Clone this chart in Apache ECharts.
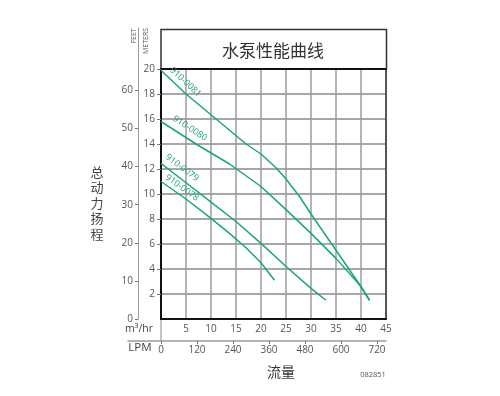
<!DOCTYPE html>
<html>
<head>
<meta charset="utf-8">
<script src="https://cdn.jsdelivr.net/npm/echarts@6/dist/echarts.min.js"></script>
<style>html,body{margin:0;padding:0;background:#fff}#c{width:500px;height:396px}</style>
</head>
<body>
<div id="c"></div>
<script>
// ---- data ----
const seriesNames = ['910-0081', '910-0080', '910-0079', '910-0078'];
const flow0081 = [0, 5, 11, 17, 20, 23, 25, 27.7, 30, 35, 39.3, 41.7];
const head0081 = [19.9, 18, 16, 14, 13.2, 12.1, 11.2, 9.8, 8.4, 5.5, 3.0, 1.5];
const flow0080 = [0, 7, 13.7, 20, 25, 30, 35, 40, 41.7];
const head0080 = [15.8, 14.0, 12.4, 10.6, 8.75, 6.85, 4.85, 2.6, 1.5];
const flow0079 = [0, 5, 10, 15, 20, 25, 30, 33];
const head0079 = [12.45, 10.9, 9.35, 7.8, 6.05, 4.2, 2.45, 1.5];
const flow0078 = [0, 5, 10, 13.7, 17, 20, 22.7];
const head0078 = [11.0, 9.6, 8.05, 6.85, 5.7, 4.5, 3.1];
const lpmTicks = [0, 120, 240, 360, 480, 600, 720];
const feetTicks = [0, 10, 20, 30, 40, 50, 60];
const titleText = '水泵性能曲线';
const yName = '总动力扬程';
const xName = '流量';
const docCode = '082851';

// ---- label anchors (data coords) ----
const labelAnchors = [[4.9, 18.95, -43], [5.8, 15.25, -33], [4.2, 12.1, -37], [4.2, 10.5, -36]];

const flows = [flow0081, flow0080, flow0079, flow0078];
const heads = [head0081, head0080, head0079, head0078];

const green = '#1aa870';
const numFont = 'Open Sans';
const cjkFont = 'Noto Sans CJK SC';

const M3HR_MAX = 45;
const LPM_MAX = M3HR_MAX * 1000 / 60; // 750
const plotLeft = 161, plotRight = 386, plotTop = 69, plotBottom = 319;
const lpmLeft = 128, feetTop = 28, feetLeft = 138;
const lpmMin = -LPM_MAX * (plotLeft - lpmLeft) / (plotRight - plotLeft);
const feetMax = ((plotBottom - feetTop) / (plotBottom - plotTop)) * 20 * 3.28084;

const chart = echarts.init(document.getElementById('c'), null, {renderer: 'canvas'});

const series = seriesNames.map((name, k) => ({
  name: name,
  type: 'line',
  xAxisIndex: 0,
  yAxisIndex: 0,
  data: flows[k].map((q, i) => [q, heads[k][i]]),
  symbol: 'none',
  smooth: false,
  z: 5,
  lineStyle: {color: green, width: 1.5},
  markPoint: {
    symbol: 'circle',
    symbolSize: 1,
    itemStyle: {color: 'rgba(0,0,0,0)'},
    label: {
      show: true, position: 'inside', formatter: name, rotate: labelAnchors[k][2],
      color: green, fontSize: 9, fontFamily: numFont
    },
    data: [{coord: [labelAnchors[k][0], labelAnchors[k][1]]}]
  }
}));

const option = {
  animation: false,
  backgroundColor: '#fff',
  grid: [
    {left: plotLeft, right: 500 - plotRight, top: plotTop, bottom: 396 - plotBottom, containLabel: false},
    {left: lpmLeft, right: 500 - plotRight, top: plotTop, bottom: 396 - plotBottom, containLabel: false},
    {left: feetLeft, width: 10, top: feetTop, bottom: 396 - plotBottom, containLabel: false}
  ],
  xAxis: [
    {
      gridIndex: 0, type: 'value', min: 0, max: M3HR_MAX, interval: 5,
      axisLine: {onZero: false, lineStyle: {color: '#111', width: 2}},
      axisTick: {show: false},
      axisLabel: {showMinLabel: false, color: '#555', fontSize: 10, margin: 5, fontFamily: numFont},
      splitLine: {show: true, lineStyle: {color: '#9c9c9c', width: 1.5}}
    },
    {
      gridIndex: 0, type: 'value', position: 'top', min: 0, max: M3HR_MAX,
      axisLine: {onZero: false, lineStyle: {color: '#111', width: 2}},
      axisTick: {show: false}, axisLabel: {show: false}, splitLine: {show: false}
    },
    {
      gridIndex: 1, type: 'value', position: 'bottom', offset: 22, min: lpmMin, max: LPM_MAX,
      axisLine: {onZero: false, lineStyle: {color: '#9a9a9a', width: 1.5}},
      axisTick: {show: true, length: 3, customValues: lpmTicks, lineStyle: {color: '#777'}},
      axisLabel: {customValues: lpmTicks, color: '#555', fontSize: 10, margin: 4, fontFamily: numFont},
      splitLine: {show: false}
    },
    {gridIndex: 2, type: 'value', show: false, min: 0, max: 1}
  ],
  yAxis: [
    {
      gridIndex: 0, type: 'value', min: 0, max: 20, interval: 2,
      axisLine: {show: true, onZero: false, lineStyle: {color: '#111', width: 2}},
      axisTick: {show: true, length: 4, lineStyle: {color: '#777'}},
      axisLabel: {showMinLabel: false, color: '#555', fontSize: 10, margin: 6, fontFamily: numFont},
      splitLine: {show: true, lineStyle: {color: '#8a8a8a', width: 1.5}}
    },
    {
      gridIndex: 0, type: 'value', position: 'right', min: 0, max: 20,
      axisLine: {show: true, onZero: false, lineStyle: {color: '#555', width: 2}},
      axisTick: {show: false}, axisLabel: {show: false}, splitLine: {show: false}
    },
    {gridIndex: 1, type: 'value', show: false, min: 0, max: 1},
    {
      gridIndex: 2, type: 'value', position: 'left', min: 0, max: feetMax,
      axisLine: {show: true, onZero: false, lineStyle: {color: '#999', width: 1}},
      axisTick: {show: true, length: 3, customValues: feetTicks, lineStyle: {color: '#777'}},
      axisLabel: {customValues: feetTicks, color: '#555', fontSize: 10, margin: 5, fontFamily: numFont},
      splitLine: {show: false}
    }
  ],
  graphic: [
    {type: 'rect', z: -10, shape: {x: plotLeft, y: 29.5, width: plotRight - plotLeft + 0.5, height: plotTop - 29.5},
     style: {fill: '#fff', stroke: '#333', lineWidth: 1.5}},
    {type: 'text', x: (plotLeft + plotRight) / 2 - 0.5, y: 51, z: 10,
     style: {text: titleText, fontSize: 17, fontFamily: cjkFont, fill: '#333', align: 'center', verticalAlign: 'middle'}},
    {type: 'text', x: 134, y: 36, rotation: Math.PI / 2,
     style: {text: 'FEET', fontSize: 7, fontFamily: numFont, fill: '#555', align: 'center', verticalAlign: 'middle'}},
    {type: 'text', x: 145.5, y: 41, rotation: Math.PI / 2,
     style: {text: 'METERS', fontSize: 7, fontFamily: numFont, fill: '#555', align: 'center', verticalAlign: 'middle'}},
    {type: 'line', shape: {x1: plotLeft, y1: plotBottom + 1, x2: plotLeft, y2: plotBottom + 23}, style: {stroke: '#888', lineWidth: 1}},
    {type: 'text', x: 139, y: 329,
     style: {text: 'm³/hr', fontSize: 10.5, fontFamily: numFont, fill: '#444', align: 'center', verticalAlign: 'middle'}},
    {type: 'text', x: 140, y: 348,
     style: {text: 'LPM', fontSize: 11.5, fontFamily: numFont, fill: '#444', align: 'center', verticalAlign: 'middle'}},
    {type: 'text', x: 281, y: 372,
     style: {text: xName, fontSize: 14, fontFamily: cjkFont, fill: '#333', align: 'center', verticalAlign: 'middle'}},
    {type: 'text', x: 373, y: 375,
     style: {text: docCode, fontSize: 7.5, fontFamily: numFont, fill: '#555', align: 'center', verticalAlign: 'middle'}},
    {type: 'text', x: 97, y: 203,
     style: {text: yName.split('').join('\n'), fontSize: 13, lineHeight: 15.5, fontFamily: cjkFont, fill: '#444', align: 'center', verticalAlign: 'middle'}}
  ],
  series: series
};
chart.setOption(option);
</script>
</body>
</html>
